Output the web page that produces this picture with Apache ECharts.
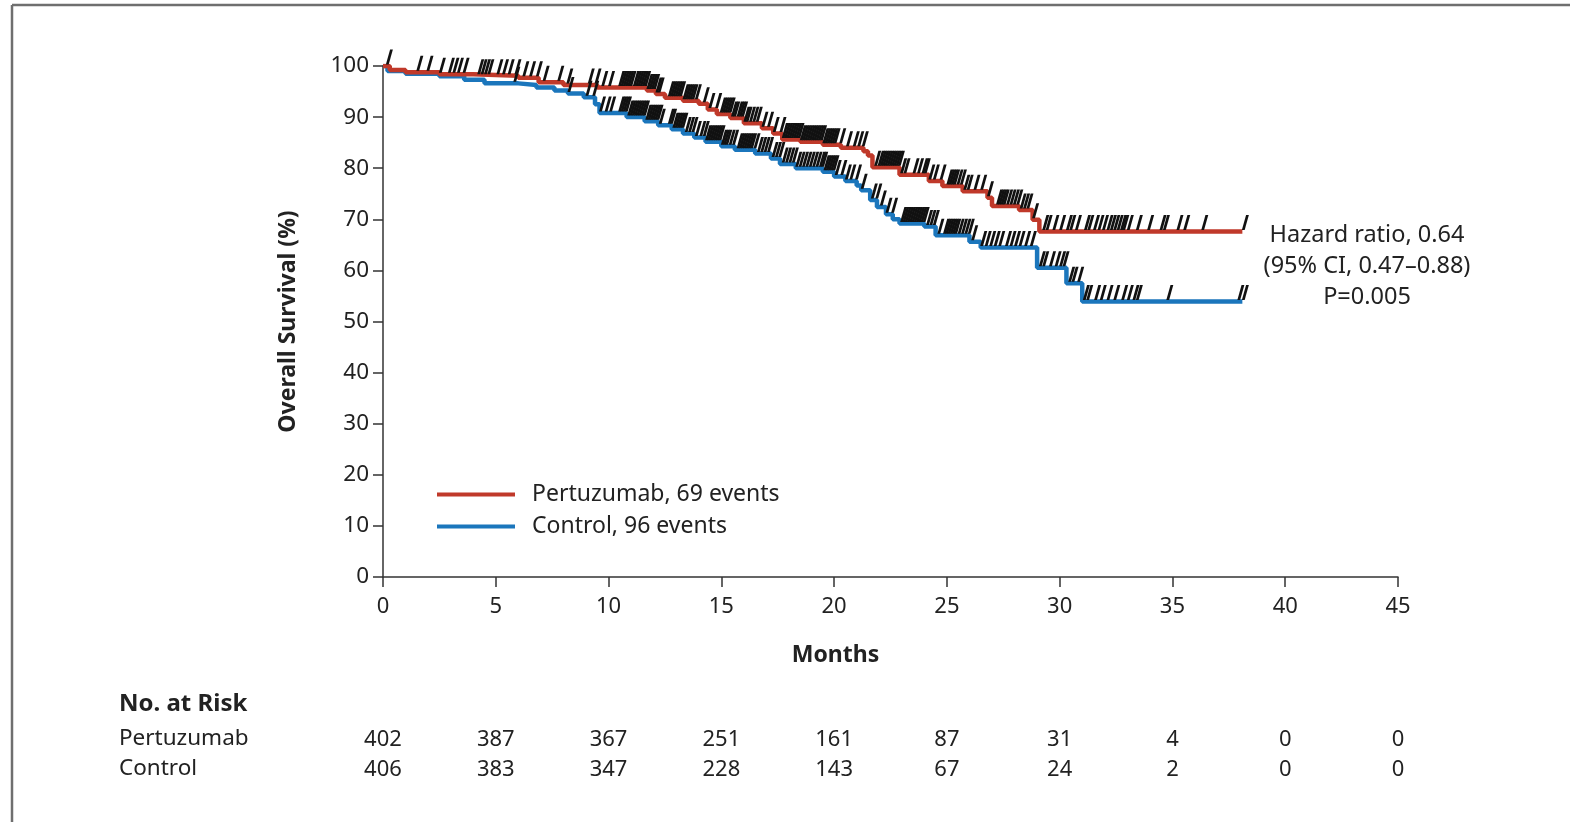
<!DOCTYPE html>
<html><head><meta charset="utf-8">
<script src="https://cdn.jsdelivr.net/npm/echarts@6/dist/echarts.min.js"></script>
<style>html,body{margin:0;padding:0;background:#fff}#c{width:1570px;height:822px}</style>
</head><body><div id="c"></div>
<script>
// Kaplan-Meier step data (months, % surviving)
const pertTimes = [0,0.3,1.0,2.5,4.0,6.0,6.9,8.0,9.5,11.7,12.1,12.5,13.3,14.0,14.4,14.8,15.4,16.0,16.8,17.3,17.7,18.5,19.5,20.3,21.3,21.5,21.7,22.9,24.2,24.8,25.7,26.8,27.0,28.2,28.8,29.1,38.1];
const pertSurv  = [100,99.2,98.8,98.4,98.1,97.7,96.8,96.3,95.8,95.2,94.5,93.8,93.2,92.6,91.5,90.6,89.8,88.8,87.8,86.8,85.6,85.2,84.6,84.0,83.3,82.5,80.2,78.7,77.5,76.5,75.5,74.2,72.6,71.8,69.9,67.6,67.6];
const ctrlTimes = [0,0.2,1.0,2.5,3.6,4.5,6.0,6.8,7.6,8.2,8.9,9.4,9.6,10.8,11.6,12.2,12.8,13.3,13.8,14.3,15.0,15.6,16.5,17.2,17.6,18.3,19.5,20.0,20.5,21.0,21.2,21.6,21.9,22.3,22.6,22.9,24.0,24.5,26.0,26.5,29.0,30.3,31.0,38.1];
const ctrlSurv  = [100,99.0,98.5,98.0,97.3,96.6,96.3,95.8,95.2,94.6,93.9,92.5,90.8,90.0,89.2,88.4,87.6,86.8,86.0,85.2,84.3,83.6,82.9,81.9,80.8,80.0,79.3,78.4,77.5,76.6,75.7,73.8,72.4,71.0,70.0,69.2,68.6,66.9,65.6,64.5,60.5,57.5,53.9,53.9];
// Censoring times (months)
const pertCensor = [0.15,1.5,1.95,2.5,2.9,3.1,3.3,3.55,4.2,4.35,4.5,4.65,5.05,5.3,5.55,5.85,6.2,6.5,6.8,7.1,7.75,8.15,9.1,9.4,9.7,10.0,10.45,10.55,10.65,10.75,10.85,10.95,11.1,11.2,11.3,11.4,11.5,11.6,11.7,11.8,11.9,12.0,12.1,12.2,12.65,12.75,12.85,12.95,13.05,13.15,13.3,13.4,13.5,13.6,13.7,13.85,14.2,14.45,14.75,14.95,15.05,15.15,15.25,15.35,15.45,15.55,15.7,15.8,15.9,16.0,16.1,16.25,16.4,16.55,16.8,17.05,17.3,17.6,17.7,17.8,17.9,18.0,18.1,18.2,18.3,18.4,18.5,18.6,18.7,18.8,18.9,19.0,19.1,19.2,19.3,19.4,19.5,19.6,19.7,19.8,19.9,20.0,20.25,20.55,20.85,21.05,21.25,21.8,21.95,22.05,22.15,22.25,22.35,22.45,22.55,22.65,22.75,22.85,22.95,23.1,23.5,23.7,23.9,24.0,24.2,24.4,24.7,25.0,25.1,25.2,25.3,25.45,25.6,25.75,25.9,26.2,26.5,26.8,27.2,27.3,27.4,27.5,27.65,27.8,27.95,28.1,28.25,28.4,28.55,28.8,29.25,29.4,29.7,30.0,30.3,30.45,30.7,31.1,31.25,31.5,31.7,31.9,32.1,32.25,32.4,32.55,32.7,32.8,33.0,33.4,33.9,34.45,34.6,35.2,35.5,36.3,38.1];
const ctrlCensor = [5.8,8.2,9.0,9.3,9.6,9.85,10.05,10.45,10.55,10.65,10.75,10.85,10.95,11.05,11.15,11.25,11.35,11.45,11.55,11.65,11.75,11.85,11.95,12.05,12.15,12.25,12.65,12.75,12.85,12.95,13.05,13.15,13.25,13.4,13.55,13.7,13.85,14.05,14.2,14.3,14.4,14.5,14.6,14.7,14.8,14.9,15.0,15.1,15.2,15.35,15.5,15.7,15.8,15.9,16.0,16.1,16.2,16.3,16.45,16.6,16.75,16.9,17.05,17.25,17.4,17.55,17.7,17.85,18.0,18.15,18.3,18.45,18.6,18.75,18.9,19.05,19.2,19.35,19.45,19.55,19.65,19.75,19.85,19.95,20.05,20.3,20.5,20.7,20.95,21.2,21.65,21.85,22.05,22.3,22.55,22.95,23.05,23.15,23.25,23.35,23.45,23.55,23.65,23.75,23.85,23.95,24.1,24.25,24.4,24.6,24.85,24.95,25.05,25.15,25.25,25.35,25.5,25.65,25.8,25.95,26.1,26.5,26.7,26.9,27.1,27.3,27.6,27.8,28.0,28.2,28.45,28.7,29.1,29.25,29.55,29.8,30.0,30.15,30.4,30.55,30.8,31.05,31.2,31.55,31.8,32.1,32.4,32.75,33.0,33.25,33.4,34.75,37.9,38.1];
// Numbers at risk at 0,5,...,45 months
const riskMonths = [0,5,10,15,20,25,30,35,40,45];
const riskPert = [402,387,367,251,161,87,31,4,0,0];
const riskCtrl = [406,383,347,228,143,67,24,2,0,0];
const yTicks = [0,10,20,30,40,50,60,70,80,90,100];

const FONT = '"Noto Sans", "Open Sans", sans-serif';
const RED = '#c0392a', BLUE = '#1b76bc', TXT = '#222';

function survAt(times, surv, t){ let v = surv[0]; for(let i=0;i<times.length;i++){ if(times[i] <= t) v = surv[i]; } return v; }
const pertLine = pertTimes.map((t,i)=>[t,pertSurv[i]]);
const ctrlLine = ctrlTimes.map((t,i)=>[t,ctrlSurv[i]]);
const pertC = pertCensor.map(t=>[t, survAt(pertTimes,pertSurv,t)]);
const ctrlC = ctrlCensor.map(t=>[t, survAt(ctrlTimes,ctrlSurv,t)]);
const tickMark = 'path://M0,15 L2.8,15 L7,0 L4.2,0 Z';

const chart = echarts.init(document.getElementById('c'), null, {renderer:'canvas'});
const axisCommon = {min:0, max:45, interval:5, type:'value'};
chart.setOption({
  animation:false,
  backgroundColor:'#fff',
  textStyle:{fontFamily:FONT},
  grid:{left:383, right:172, top:66, bottom:245, containLabel:false},
  legend:{
    data:['Pertuzumab, 69 events','Control, 96 events'],
    orient:'vertical', left:432, top:478, itemWidth:78, itemHeight:4, itemGap:9, icon:'rect',
    textStyle:{fontFamily:FONT, fontSize:23, color:TXT, padding:[0,0,0,12]}
  },
  xAxis:[
    Object.assign({}, axisCommon, {
      position:'bottom',
      name:'Months', nameLocation:'middle', nameGap:67,
      nameTextStyle:{fontFamily:FONT, fontSize:23, fontWeight:'bold', color:TXT, padding:[0,110,0,0]},
      axisLine:{show:true, lineStyle:{color:'#333', width:1.5}},
      axisTick:{show:true, length:10, lineStyle:{color:'#333', width:1.5}},
      axisLabel:{fontFamily:FONT, fontSize:22, color:TXT, margin:19},
      splitLine:{show:false}
    }),
    Object.assign({}, axisCommon, {
      position:'bottom', offset:152,
      axisLine:{show:false}, axisTick:{show:false}, splitLine:{show:false},
      axisLabel:{fontFamily:FONT, fontSize:22, color:TXT, margin:0,
        formatter:v=>{const i=riskMonths.indexOf(v); return i>=0? String(riskPert[i]):'';}}
    }),
    Object.assign({}, axisCommon, {
      position:'bottom', offset:182,
      axisLine:{show:false}, axisTick:{show:false}, splitLine:{show:false},
      axisLabel:{fontFamily:FONT, fontSize:22, color:TXT, margin:0,
        formatter:v=>{const i=riskMonths.indexOf(v); return i>=0? String(riskCtrl[i]):'';}}
    })
  ],
  yAxis:{
    type:'value', min:0, max:100, interval:10,
    name:'Overall Survival (%)', nameLocation:'middle', nameGap:83, nameRotate:90,
    nameTextStyle:{fontFamily:FONT, fontSize:23, fontWeight:'bold', color:TXT},
    axisLine:{show:true, lineStyle:{color:'#333', width:1.5}},
    axisTick:{show:true, length:10, lineStyle:{color:'#333', width:1.5}},
    axisLabel:{fontFamily:FONT, fontSize:22.5, color:TXT, margin:14,
      formatter:v=> yTicks.indexOf(v)>=0 ? String(v) : ''},
    splitLine:{show:false}
  },
  series:[
    {name:'Control, 96 events', type:'line', step:'end', data:ctrlLine, showSymbol:false, symbol:'none',
     lineStyle:{color:BLUE, width:4.5}, itemStyle:{color:BLUE}, z:2},
    {name:'Pertuzumab, 69 events', type:'line', step:'end', data:pertLine, showSymbol:false, symbol:'none',
     lineStyle:{color:RED, width:4.5}, itemStyle:{color:RED}, z:3},
    {name:'ctrlCensor', type:'scatter', data:ctrlC, symbol:tickMark, symbolSize:[7,15], symbolOffset:[3,-9],
     itemStyle:{color:'#111', opacity:1}, silent:true, z:4},
    {name:'pertCensor', type:'scatter', data:pertC, symbol:tickMark, symbolSize:[7,15], symbolOffset:[3,-9],
     itemStyle:{color:'#111', opacity:1}, silent:true, z:5}
  ],
  graphic:[
    {type:'line', shape:{x1:12, y1:5, x2:1570, y2:5}, style:{stroke:'#6f6f6f', lineWidth:2.5}},
    {type:'line', shape:{x1:12, y1:5, x2:12, y2:822}, style:{stroke:'#6f6f6f', lineWidth:2.5}},
    {type:'text', x:1367, y:220, style:{text:'Hazard ratio, 0.64\n(95% CI, 0.47\u20130.88)\nP=0.005', align:'center', textAlign:'center', verticalAlign:'top', textVerticalAlign:'top', fontFamily:FONT, fontSize:23.5, lineHeight:31, fill:TXT}},
    {type:'text', x:119, y:692, style:{text:'No. at Risk', fontFamily:FONT, fontSize:24, fontWeight:'bold', fill:TXT}},
    {type:'text', x:119, y:727, style:{text:'Pertuzumab', fontFamily:FONT, fontSize:22.5, fill:TXT}},
    {type:'text', x:119, y:757, style:{text:'Control', fontFamily:FONT, fontSize:22.5, fill:TXT}}
  ]
});
</script></body></html>
